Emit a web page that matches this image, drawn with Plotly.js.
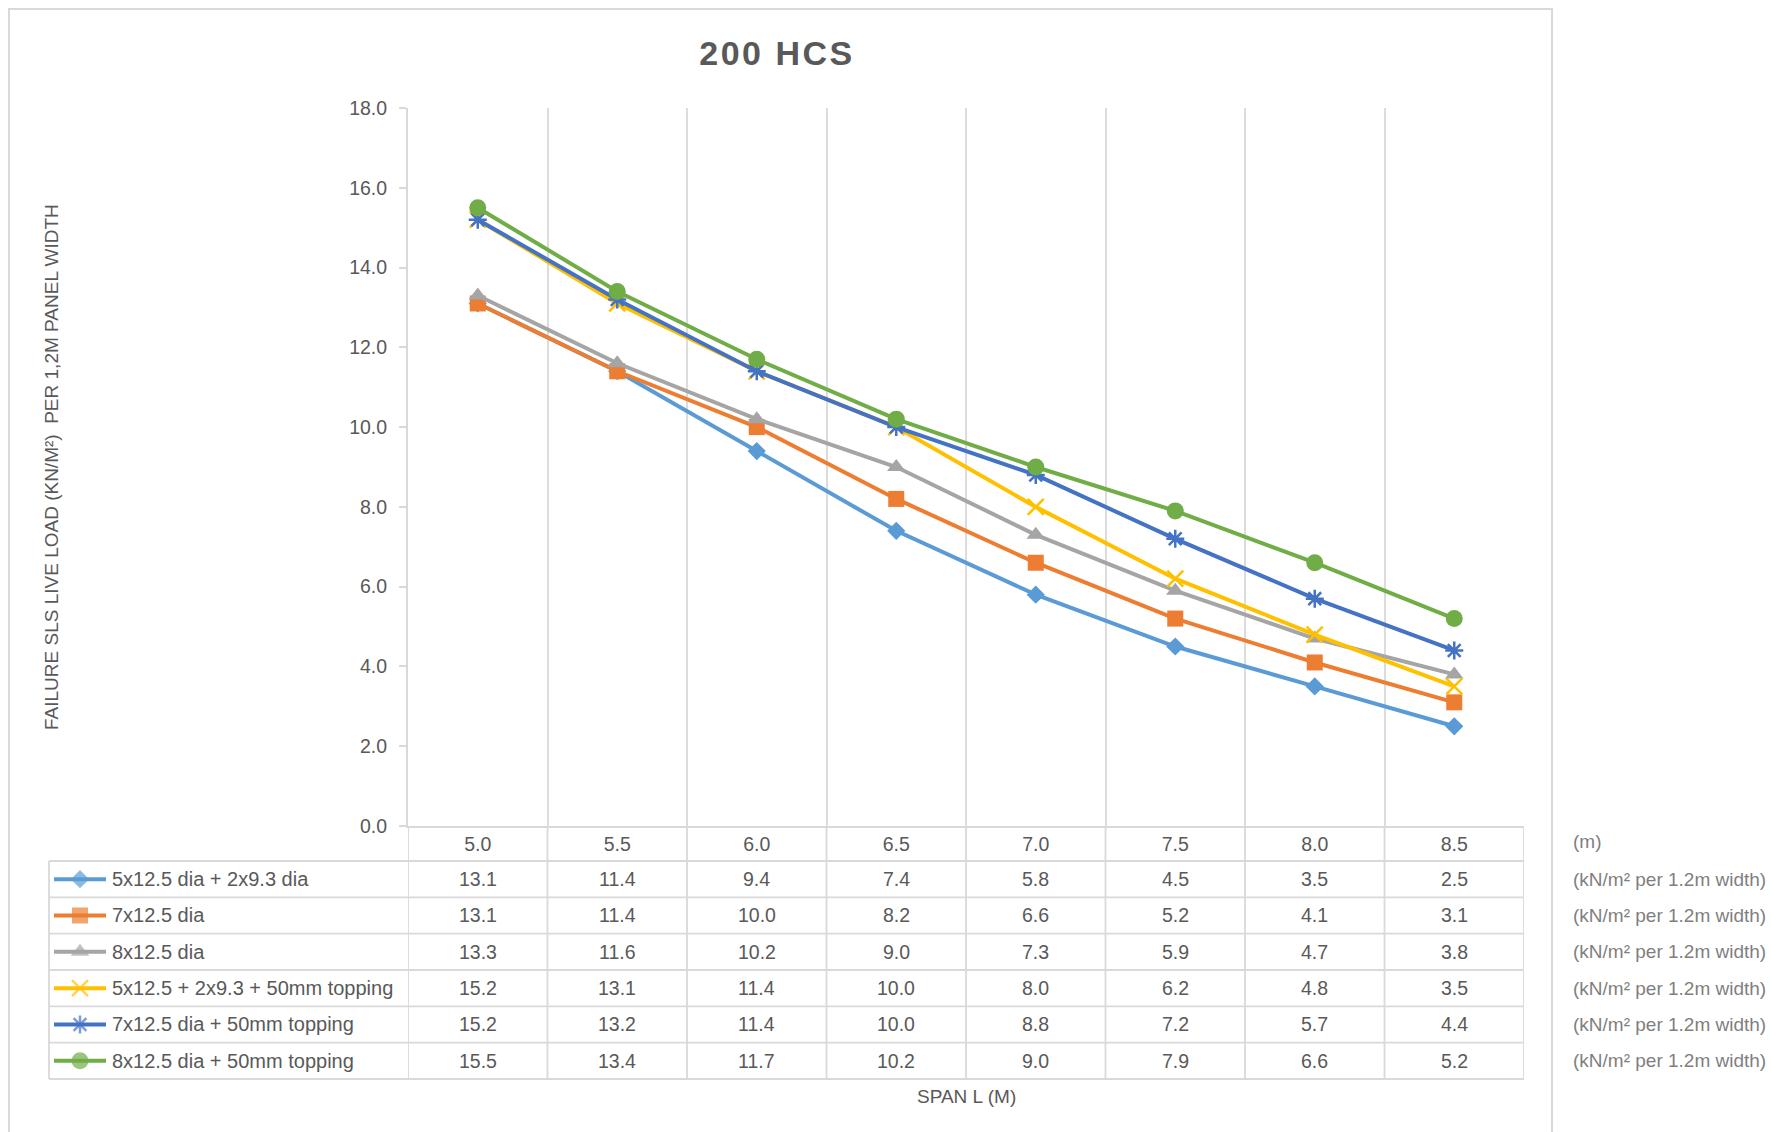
<!DOCTYPE html>
<html>
<head>
<meta charset="utf-8">
<script src="https://cdn.plot.ly/plotly-3.0.1.min.js"></script>
<style>
html,body{margin:0;padding:0;background:#fff;}
#chart .gtitle{letter-spacing:2.5px;}
</style>
</head>
<body>
<div id="chart" style="width:1771px;height:1132px;"></div>
<script>
// ---------------- data ----------------
const spans = ['5.0','5.5','6.0','6.5','7.0','7.5','8.0','8.5'];
const seriesNames = [
  '5x12.5 dia + 2x9.3 dia',
  '7x12.5 dia',
  '8x12.5 dia',
  '5x12.5 + 2x9.3 + 50mm topping',
  '7x12.5 dia + 50mm topping',
  '8x12.5 dia + 50mm topping'
];
const s1 = [13.1, 11.4, 9.4, 7.4, 5.8, 4.5, 3.5, 2.5];
const s2 = [13.1, 11.4, 10.0, 8.2, 6.6, 5.2, 4.1, 3.1];
const s3 = [13.3, 11.6, 10.2, 9.0, 7.3, 5.9, 4.7, 3.8];
const s4 = [15.2, 13.1, 11.4, 10.0, 8.0, 6.2, 4.8, 3.5];
const s5 = [15.2, 13.2, 11.4, 10.0, 8.8, 7.2, 5.7, 4.4];
const s6 = [15.5, 13.4, 11.7, 10.2, 9.0, 7.9, 6.6, 5.2];
const yTicks = [0, 2, 4, 6, 8, 10, 12, 14, 16, 18];
const titleText = '200 HCS';
const yTitle = 'FAILURE SLS LIVE LOAD (KN/M²)  PER 1,2M PANEL WIDTH';
const xTitle = 'SPAN L (M)';
const unitSpan = '(m)';
const unitLoad = '(kN/m² per 1.2m width)';

// ---------------- styles ----------------
const seriesValues = [s1, s2, s3, s4, s5, s6];
const colors = ['#5B9BD5', '#ED7D31', '#A5A5A5', '#FFC000', '#4472C4', '#70AD47'];
const symbols = ['diamond', 'square', 'triangle-up', 'x-thin-open', 'asterisk-open', 'circle'];
const sizes = [14, 16, 16, 16, 15, 17];
const FONT = '"Liberation Sans", Arial, sans-serif';
const TXT = '#595959';
const GRID = '#D9D9D9';

const W = 1771, H = 1132;
const px = v => v / W;
const py = v => 1 - v / H;

// layout geometry (pixels)
const plotL = 408, plotR = 1524, plotT = 108, plotB = 826;
const tableL = 49, rowTop = 861, rowH = 36.33;
const keyX0 = 54, keyXm = 80, keyX1 = 106, nameX = 110, unitXpx = 1571;

function markerFor(i, sizeArr) {
  const open = symbols[i].indexOf('open') >= 0;
  return {
    symbol: symbols[i],
    size: sizeArr || sizes[i],
    color: colors[i],
    line: open ? {color: colors[i], width: 2.5} : {width: 0}
  };
}

const traces = [];
seriesValues.forEach((vals, i) => {
  traces.push({
    type: 'scatter', mode: 'lines+markers',
    x: spans, y: vals, name: seriesNames[i],
    xaxis: 'x', yaxis: 'y',
    line: {color: colors[i], width: 4},
    marker: markerFor(i),
    cliponaxis: false, hoverinfo: 'skip'
  });
});
// legend keys inside the data table
seriesValues.forEach((vals, i) => {
  const c = rowTop + rowH * (i + 0.5);
  traces.push({
    type: 'scatter', mode: 'lines+markers',
    x: [keyX0, keyXm, keyX1], y: [c, c, c],
    xaxis: 'x2', yaxis: 'y2',
    line: {color: colors[i], width: 4},
    marker: markerFor(i, [0, sizes[i], 0]),
    cliponaxis: false, hoverinfo: 'skip', showlegend: false
  });
});

const shapes = [];
// chart border
shapes.push({type: 'rect', xref: 'paper', yref: 'paper',
  x0: px(9), x1: px(1552), y0: -0.02, y1: py(9),
  line: {color: GRID, width: 2}, fillcolor: 'rgba(0,0,0,0)', layer: 'below'});
// table horizontal lines
for (let k = 0; k <= seriesValues.length; k++) {
  const yy = rowTop + k * rowH;
  shapes.push({type: 'line', xref: 'paper', yref: 'paper',
    x0: px(tableL), x1: px(plotR), y0: py(yy), y1: py(yy),
    line: {color: GRID, width: 1.8}});
}
// legend column left edge
shapes.push({type: 'line', xref: 'paper', yref: 'paper',
  x0: px(tableL), x1: px(tableL), y0: py(rowTop), y1: py(rowTop + rowH * seriesValues.length),
  line: {color: GRID, width: 1.8}});
// column separators through the table (category boundaries)
for (let i = 0; i <= spans.length; i++) {
  shapes.push({type: 'line', xref: 'x', yref: 'paper',
    x0: i - 0.5, x1: i - 0.5, y0: py(plotB), y1: py(rowTop + rowH * seriesValues.length),
    line: {color: GRID, width: 1.8}});
}

const annotations = [];
const tf = (s, c) => ({family: FONT, size: s, color: c || TXT});
seriesValues.forEach((vals, r) => {
  const c = rowTop + rowH * (r + 0.5);
  vals.forEach((v, j) => {
    annotations.push({xref: 'x', yref: 'paper', x: j, y: py(c),
      text: v.toFixed(1), showarrow: false, xanchor: 'center', yanchor: 'middle',
      font: tf(19.5)});
  });
  annotations.push({xref: 'paper', yref: 'paper', x: px(nameX), y: py(c),
    text: seriesNames[r], showarrow: false, xanchor: 'left', yanchor: 'middle',
    font: tf(20)});
  annotations.push({xref: 'paper', yref: 'paper', x: px(unitXpx), y: py(c),
    text: unitLoad, showarrow: false, xanchor: 'left', yanchor: 'middle',
    font: tf(19, '#7F7F7F')});
});
annotations.push({xref: 'paper', yref: 'paper', x: px(unitXpx), y: py(841),
  text: unitSpan, showarrow: false, xanchor: 'left', yanchor: 'middle',
  font: tf(19, '#7F7F7F')});
annotations.push({xref: 'paper', yref: 'paper', x: px(51), y: py((plotT + plotB) / 2),
  text: yTitle, textangle: -90, showarrow: false, xanchor: 'center', yanchor: 'middle',
  font: tf(19)});
annotations.push({xref: 'x domain', yref: 'paper', x: 0.5, y: py(1096),
  text: xTitle, showarrow: false, xanchor: 'center', yanchor: 'middle',
  font: tf(19)});

const layout = {
  width: W, height: H,
  margin: {l: 0, r: 0, t: 0, b: 0, pad: 0},
  paper_bgcolor: '#ffffff', plot_bgcolor: 'rgba(0,0,0,0)',
  showlegend: false, hovermode: false,
  font: {family: FONT, color: TXT},
  title: {text: '<b>' + titleText + '</b>', x: px(777), y: py(53),
    xref: 'paper', yref: 'paper', xanchor: 'center', yanchor: 'middle',
    font: {family: FONT, size: 34, color: TXT}},
  xaxis: {
    type: 'category', categoryorder: 'array', categoryarray: spans,
    domain: [px(plotL), px(plotR)], range: [-0.5, spans.length - 0.5],
    anchor: 'y', tickson: 'boundaries',
    showgrid: true, gridcolor: '#DCDCDC', gridwidth: 2,
    showline: true, linecolor: GRID, linewidth: 2,
    zeroline: false, ticks: '', ticklabelstandoff: 0,
    tickfont: tf(19.5), fixedrange: true
  },
  yaxis: {
    domain: [py(plotB), py(plotT)], range: [0, 18],
    tickvals: yTicks, tickformat: '.1f', anchor: 'x',
    showgrid: false, zeroline: false,
    showline: true, linecolor: GRID, linewidth: 2,
    ticks: 'outside', ticklen: 7, tickcolor: GRID, tickwidth: 2,
    ticklabelstandoff: 8, tickfont: tf(19.5), fixedrange: true
  },
  xaxis2: {domain: [0, 1], range: [0, W], anchor: 'y2', visible: false, fixedrange: true},
  yaxis2: {domain: [0, 1], range: [H, 0], anchor: 'x2', visible: false, fixedrange: true},
  shapes: shapes,
  annotations: annotations
};

Plotly.newPlot('chart', traces, layout, {displayModeBar: false, staticPlot: true});
</script>
</body>
</html>
